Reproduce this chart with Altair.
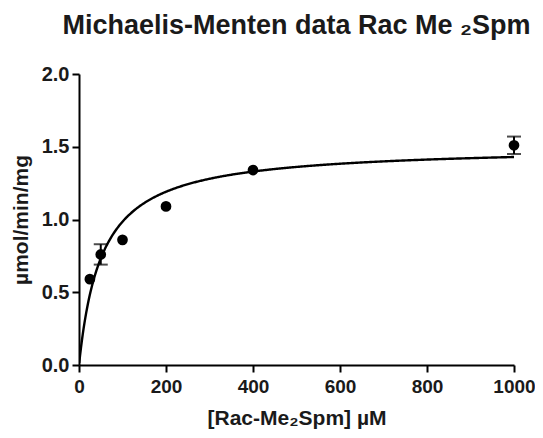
import altair as alt
import pandas as pd

conc = [25, 50, 100, 200, 400, 1000]
rate = [0.59, 0.76, 0.86, 1.09, 1.34, 1.51]
err = [0.0, 0.07, 0.0, 0.0, 0.0, 0.06]
Vmax = 1.505
Km = 52.8

df = pd.DataFrame({"x": conc, "y": rate, "e": err})
df["lo"] = df["y"] - df["e"]
df["hi"] = df["y"] + df["e"]
dfe = df[df["e"] > 0]
caps = pd.concat([dfe.assign(c=dfe["lo"]), dfe.assign(c=dfe["hi"])])

xs = alt.Scale(domain=[0, 1000], nice=False)
ys = alt.Scale(domain=[0, 2.0], nice=False)

FONT = "Liberation Sans"
xax = alt.Axis(values=[0, 200, 400, 600, 800, 1000], format="d", title="[Rac-Me₂Spm] µM",
               grid=False, domainWidth=2, tickWidth=2, tickSize=7, domainColor="black",
               tickColor="black", labelFontSize=19, labelFontWeight="bold", labelColor="#1a1a1a",
               titleFontSize=21, titleFontWeight="bold", titleColor="#1a1a1a", labelPadding=5,
               titlePadding=11, labelFont=FONT, titleFont=FONT, labelFlush=False)
yax = alt.Axis(values=[0, 0.5, 1.0, 1.5, 2.0], format=".1f", title="µmol/min/mg",
               grid=False, domainWidth=2, tickWidth=2, tickSize=7, domainColor="black",
               tickColor="black", labelFontSize=20, labelFontWeight="bold", labelColor="#1a1a1a",
               titleFontSize=21, titleFontWeight="bold", titleColor="#1a1a1a", labelPadding=3,
               titlePadding=10, labelFont=FONT, titleFont=FONT, labelFlush=False)

curve = alt.Chart(alt.sequence(start=0.5, stop=1001, step=2, as_="x")).transform_calculate(
    y=f"{Vmax}*datum.x/({Km}+datum.x)"
).mark_line(color="black", strokeWidth=2.4, clip=True).encode(
    x=alt.X("x:Q", scale=xs, axis=xax), y=alt.Y("y:Q", scale=ys, axis=yax)
)

pts = alt.Chart(df).mark_circle(color="black", size=115, opacity=1).encode(
    x=alt.X("x:Q", scale=xs), y=alt.Y("y:Q", scale=ys)
)

bars = alt.Chart(dfe).mark_rule(color="black", strokeWidth=2).encode(
    x=alt.X("x:Q", scale=xs), y=alt.Y("lo:Q", scale=ys), y2="hi:Q"
)
capm = alt.Chart(caps).mark_tick(color="black", thickness=2, size=14, orient="horizontal").encode(
    x=alt.X("x:Q", scale=xs), y=alt.Y("c:Q", scale=ys)
)

chart = alt.layer(curve, bars, capm, pts).properties(
    width=435, height=291,
    autosize=alt.AutoSizeParams(type="none"),
    padding={"left": 71, "top": 66, "right": 21, "bottom": 65},
    title=alt.Title("Michaelis-Menten data Rac Me ₂Spm", fontSize=27, fontWeight="bold",
                    font=FONT, color="#1a1a1a", anchor="middle", offset=24),
).configure_view(stroke=None)

chart.save("out.html", embed_options={"renderer": "svg", "actions": False})
